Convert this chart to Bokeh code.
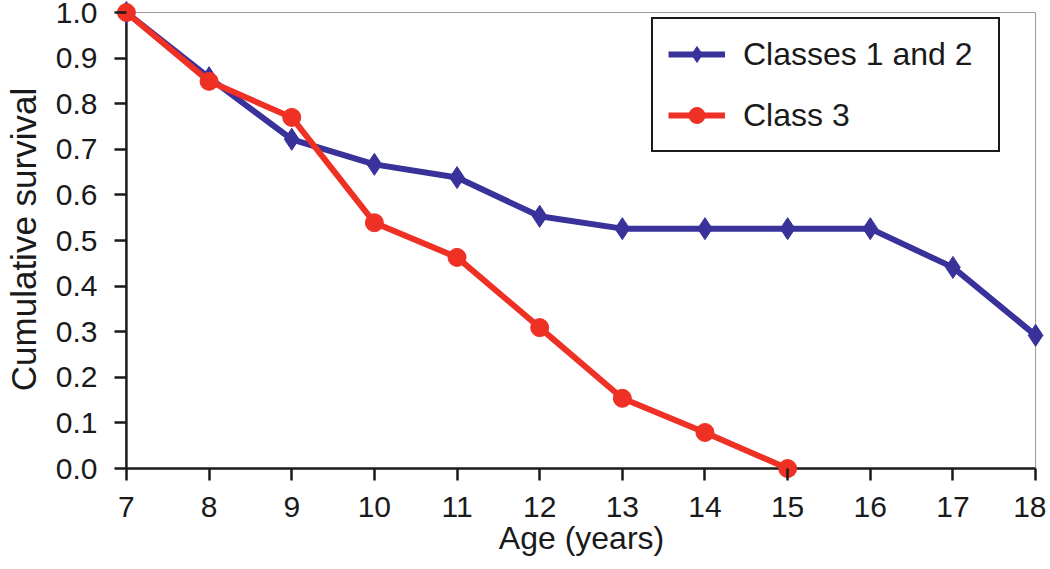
from bokeh.plotting import figure
from bokeh.models import Range1d, Legend, LegendItem, FixedTicker, CustomJSTickFormatter
from bokeh.embed import file_html
from bokeh.resources import INLINE

ages_12 = [7, 8, 9, 10, 11, 12, 13, 14, 15, 16, 17, 18]
surv_12 = [1.0, 0.857, 0.722, 0.667, 0.638, 0.553, 0.526, 0.526, 0.526, 0.526, 0.441, 0.292]
ages_3 = [7, 8, 9, 10, 11, 12, 13, 14, 15]
surv_3 = [1.0, 0.849, 0.770, 0.539, 0.463, 0.309, 0.154, 0.079, 0.0]
x_ticks = list(range(7, 19))
y_ticks = [0.0, 0.1, 0.2, 0.3, 0.4, 0.5, 0.6, 0.7, 0.8, 0.9, 1.0]

BLUE = "#38329a"
RED = "#ee3124"
DARK = "#1a1a1a"
FONT = "Liberation Sans"

x0, x1 = x_ticks[0], x_ticks[-1]
y0, y1 = y_ticks[0], y_ticks[-1]

p = figure(width=1046, height=566, output_backend="svg", toolbar_location=None,
           x_range=Range1d(6.88, 18.132), y_range=Range1d(-0.0219, 1.0263),
           min_border_left=109, min_border_right=0, min_border_top=0, min_border_bottom=88)
p.outline_line_color = None
p.xgrid.grid_line_color = None
p.ygrid.grid_line_color = None

# thin grey frame on top and right
p.segment(x0=[x0, x1], y0=[y1, y0], x1=[x1, x1], y1=[y1, y1], line_color="#9a9a9a", line_width=1)
# axis lines at x=7 and y=0
p.segment(x0=[x0, x0], y0=[y0, y0], x1=[x1, x0], y1=[y0, y1], line_color=DARK, line_width=2.5)

l1 = p.line(ages_12, surv_12, line_color=BLUE, line_width=6)
m1 = p.scatter(ages_12, surv_12, marker="diamond", size=22, fill_color=BLUE, line_color=BLUE)
l2 = p.line(ages_3, surv_3, line_color=RED, line_width=6)
m2 = p.scatter(ages_3, surv_3, marker="circle", size=18, fill_color=RED, line_color=RED)

for ax in (p.xaxis[0], p.yaxis[0]):
    ax.axis_line_color = None
    ax.major_tick_line_color = DARK
    ax.major_tick_line_width = 2.5
    ax.major_tick_out = 2
    ax.major_tick_in = 10
    ax.minor_tick_line_color = None
    ax.major_label_text_font = FONT
    ax.major_label_text_font_size = "30px"
    ax.major_label_text_color = DARK
    ax.axis_label_text_font = FONT
    ax.axis_label_text_font_style = "normal"
    ax.axis_label_text_color = DARK

p.xaxis.ticker = FixedTicker(ticks=x_ticks)
p.yaxis.ticker = FixedTicker(ticks=y_ticks)
p.yaxis.formatter = CustomJSTickFormatter(code="return tick.toFixed(1);")
p.xaxis.axis_label = "Age (years)"
p.yaxis.axis_label = "Cumulative survival"
p.xaxis.axis_label_text_font_size = "32px"
p.yaxis.axis_label_text_font_size = "35px"
p.xaxis.major_label_standoff = 16
p.yaxis.major_label_standoff = 17
p.xaxis.axis_label_standoff = 0
p.yaxis.axis_label_standoff = 10

legend = Legend(items=[
    LegendItem(label="Classes 1 and 2", renderers=[l1, m1]),
    LegendItem(label="Class 3", renderers=[l2, m2]),
], location=(535, 326))
legend.label_text_font = FONT
legend.label_text_font_size = "32px"
legend.label_text_color = DARK
legend.border_line_color = DARK
legend.border_line_alpha = 1
legend.border_line_width = 2
legend.background_fill_color = "white"
legend.background_fill_alpha = 1
legend.padding = 15
legend.spacing = 21
legend.glyph_width = 57
legend.glyph_height = 40
legend.label_height = 40
legend.label_width = 240
legend.label_standoff = 18
legend.margin = 0
p.add_layout(legend)

open("out.html", "w").write(file_html(p, INLINE))
